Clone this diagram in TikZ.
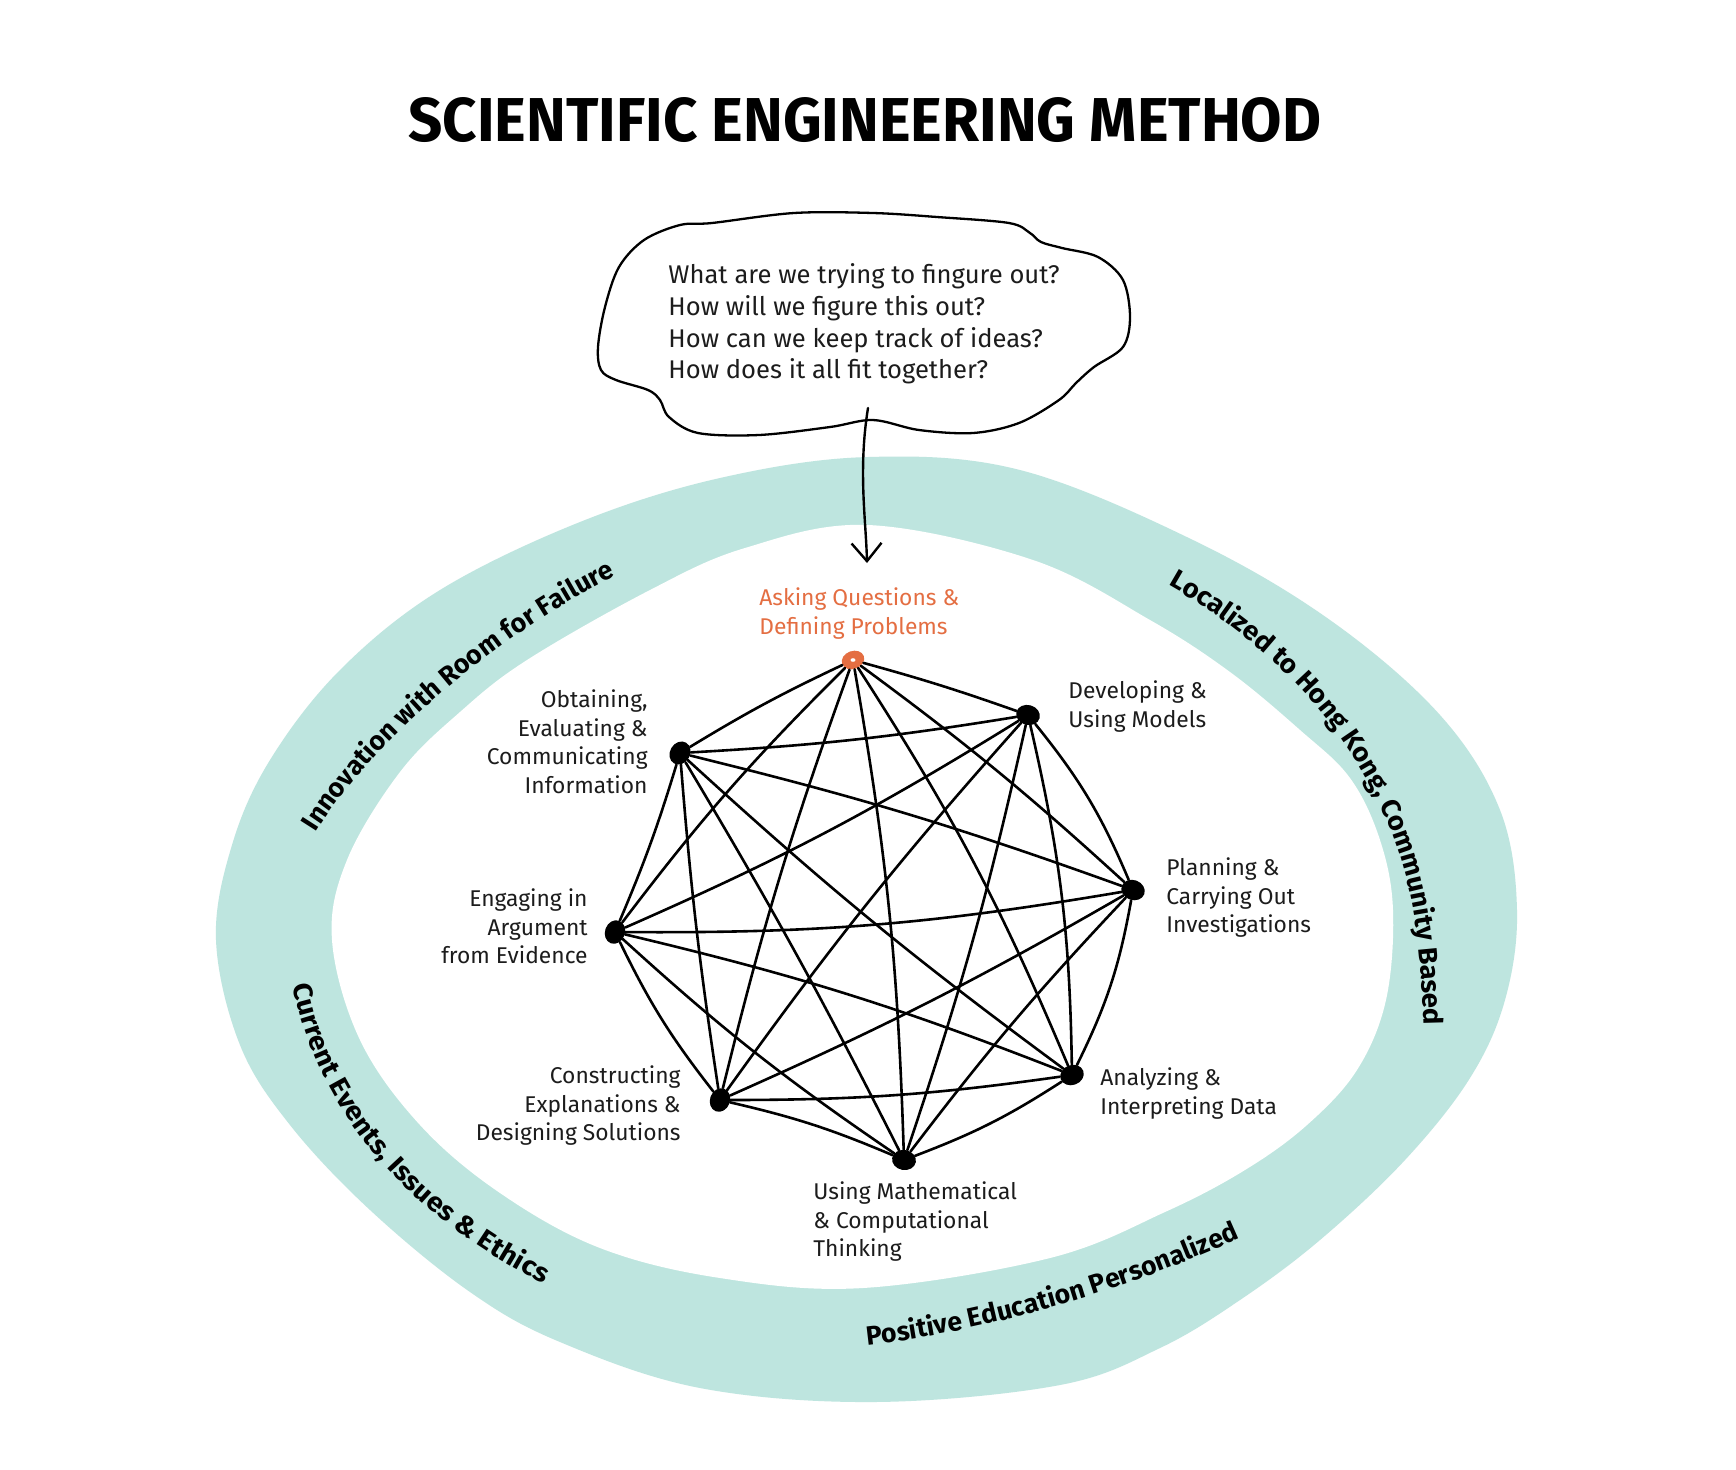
\documentclass[tikz,border=0pt]{standalone}
\usepackage{fontspec}
\usepackage{graphicx}
\setmainfont{Fira Sans}
\newfontfamily\ringfontA{Fira Sans}
\newfontfamily\ringfontB[FakeStretch=1.08]{Fira Sans}
\newfontfamily\ringfontC[FakeStretch=1.04]{Fira Sans}
\usetikzlibrary{decorations.text,arrows.meta,shapes.geometric}
\definecolor{ringteal}{RGB}{190,229,223}
\definecolor{askorange}{RGB}{228,110,66}
\definecolor{inkgray}{RGB}{28,28,28}
\newcommand\ringfmtA{\ringfontA\fontsize{13.3}{13.3}\selectfont\bfseries}
\newcommand\ringfmtB{\ringfontB\fontsize{13.3}{13.3}\selectfont\bfseries}
\newcommand\ringfmtC{\ringfontC\fontsize{13.3}{13.3}\selectfont\bfseries}
\begin{document}
\begin{tikzpicture}[x=0.5pt,y=-0.5pt,
  edge/.style={line width=1.3pt,line cap=round},
  blackdot/.style={ellipse,fill=black,inner sep=0pt,minimum width=12pt,minimum height=10pt},
  askdot/.style={ellipse,fill=askorange,inner sep=0pt,minimum width=11.5pt,minimum height=9pt},
  lbl/.style={inner sep=0pt,text=inkgray,font=\fontsize{11.4}{14.3}\selectfont},
  lblL/.style={lbl,anchor=north west,align=left},
  lblR/.style={lbl,anchor=north east,align=right},
  ringpath/.style={decorate,decoration={text along path,text align=left,text={#1}}}
]
\useasboundingbox (0,0) rectangle (1736,1469);
\fill[white] (0,0) rectangle (1736,1469);

% ring band
\fill[ringteal] plot[smooth cycle,tension=0.6] coordinates {
(868,457) (1020,470) (1193,540) (1330,620) (1440,715) (1500,810) (1517,910)
(1505,1000) (1470,1078) (1405,1160) (1320,1240) (1240,1300) (1160,1348) (1060,1385)
(875,1402) (700,1388) (560,1342) (470,1292) (370,1210) (290,1125) (240,1045)
(216,940) (232,845) (270,760) (340,670) (440,590) (580,522) (720,478)};
\fill[white] plot[smooth cycle,tension=0.6] coordinates {
(868,525) (1033,560) (1150,620) (1230,672) (1300,730) (1350,778) (1380,840)
(1393,910) (1386,1000) (1357,1070) (1307,1125) (1245,1170) (1165,1212) (1050,1258)
(863,1288) (720,1278) (600,1248) (500,1193) (420,1125) (360,1040) (332,940)
(347,860) (400,772) (460,712) (527,660) (650,590) (745,548)};

% ring texts
\path[ringpath={|\ringfmtA|Innovation with Room for Failure}]
  (316,832) .. controls (372,742) and (522,602) .. (700,540);
\path[ringpath={|\ringfmtC|Localized to Hong Kong, Community Based}]
  (1168,585) .. controls (1300,660) and (1400,780) .. (1418,940)
  .. controls (1428,1030) and (1425,1100) .. (1410,1200);
\path[ringpath={|\ringfmtB|Current Events, Issues {\&} Ethics}]
  (293,985) .. controls (320,1120) and (420,1240) .. (620,1318);
\path[ringpath={|\ringfmtA|Positive Education Personalized}]
  (867,1345) .. controls (960,1335) and (1120,1300) .. (1300,1210);

% title
\node[anchor=base,inner sep=0pt] (title) at (865,141)
  {\resizebox{456.5pt}{22pt}{\bfseries SCIENTIFIC ENGINEERING METHOD}};

% thought cloud
\draw[line width=1.15pt,line join=round] plot[smooth cycle,tension=0.55] coordinates {
(712,223) (794,213) (873,213) (937,217) (1009,223) (1030,233) (1041,242)
(1062,248) (1098,257) (1123,280) (1130,317) (1123,347) (1094,367) (1076,383)
(1059,400) (1019,423) (973,433) (919,430) (873,420) (830,427) (759,435)
(698,433) (669,417) (660,400) (648,390) (616,380) (601,370) (598,347)
(605,307) (619,267) (644,240) (680,225)};
\node[lblL,font=\fontsize{12.8}{15.85}\selectfont] (questions) at (668,261)
  {\strut What are we trying to fingure out?\\How will we figure this out?\\How can we keep track of ideas?\\How does it all fit together?};

% arrow
\coordinate (arrS) at (868,408);
\coordinate (arrE) at (867,563);
\draw[line width=1.2pt,line cap=round,-{Straight Barb[length=9pt,width=15pt,line width=1.2pt]}]
  (arrS) .. controls (858,470) and (866,520) .. (arrE);

% practice nodes
\node[askdot,rotate=20] (A) at (853,660) {};
\node[blackdot,rotate=-15] (D) at (1028,715) {};
\node[blackdot,rotate=-20] (P) at (1133,890) {};
\node[blackdot,rotate=20] (N) at (1072,1075) {};
\node[blackdot,rotate=-10] (M) at (904,1160) {};
\node[blackdot,rotate=70] (C) at (720,1100) {};
\node[blackdot,rotate=70] (E) at (615,932) {};
\node[blackdot,rotate=60] (O) at (680,753) {};
\fill[white] (A.center) ellipse [x radius=2.5,y radius=1.8];

\foreach \a/\b/\c in {A/D/2, A/P/3, A/N/5, A/M/4, A/C/-3, A/E/-4, A/O/-3,
  D/P/8, D/N/6, D/M/3, D/C/-3, D/E/4, D/O/3,
  P/N/8, P/M/-3, P/C/3, P/E/5, P/O/-3,
  N/M/6, N/C/4, N/E/-4, N/O/3,
  M/C/-5, M/E/4, M/O/-2,
  C/E/6, C/O/2, E/O/-3}
  \draw[edge] (\a) to[bend left=\c] (\b);

% labels
\node[lblL,text=askorange] (lA) at (759,585) {\strut Asking Questions \&\\Defining Problems};
\node[lblL] (lD) at (1068,678) {\strut Developing \&\\Using Models};
\node[lblL] (lP) at (1166,855) {\strut Planning \&\\Carrying Out\\Investigations};
\node[lblL] (lN) at (1100,1065) {\strut Analyzing \&\\Interpreting Data};
\node[lblL] (lM) at (813,1179) {\strut Using Mathematical\\\& Computational\\Thinking};
\node[lblR] (lC) at (681,1063) {\strut Constructing\\Explanations \&\\Designing Solutions};
\node[lblR] (lE) at (588,886) {\strut Engaging in\\Argument\\from Evidence};
\node[lblR] (lO) at (648,687) {\strut Obtaining,\\Evaluating \&\\Communicating\\Information};
\end{tikzpicture}
\end{document}
